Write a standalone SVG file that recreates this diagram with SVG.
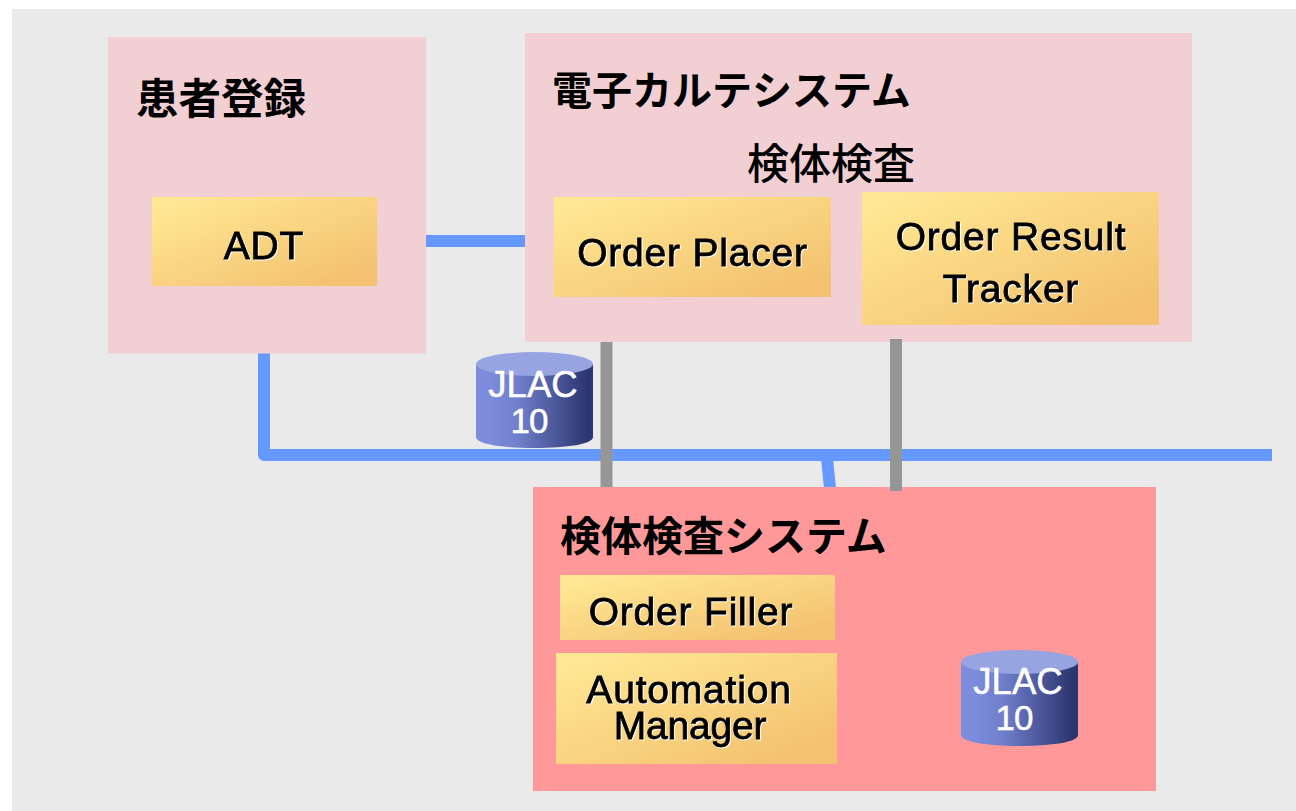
<svg xmlns="http://www.w3.org/2000/svg" width="1296" height="811" viewBox="0 0 1296 811">
<style>
.bg{fill:#eaeaea}
.sys{fill:#f2cfd3}
.lab{fill:#ff9999}
.act{fill:url(#gold)}
.title{font-family:"Noto Sans CJK JP","Liberation Sans",sans-serif;font-size:40px;font-weight:700;fill:#000}
.t{font-family:"Liberation Sans","Noto Sans CJK JP",sans-serif;font-size:39px;letter-spacing:.8px;text-anchor:middle;fill:#000;stroke:#000;stroke-width:.8px;filter:drop-shadow(1px 1px 0 #fff)}
.db{font-family:"Liberation Sans",sans-serif;font-size:36.500px;text-anchor:middle;fill:#fff;stroke:#fff;stroke-width:.5px}
.blue{stroke:#6699ff;stroke-width:12;fill:none;stroke-linejoin:round}
.gray{stroke:#969696;stroke-width:12;fill:none}
</style>
<defs>
<linearGradient id="gold" x1="0" y1="0" x2="1" y2="1"><stop offset=".1" stop-color="#ffe692"/><stop offset=".9" stop-color="#f3c16f"/></linearGradient>
<linearGradient id="cyl" x1="0" y1="0" x2="1" y2="0"><stop offset=".1" stop-color="#7d8cdc"/><stop offset=".35" stop-color="#7080cc"/><stop offset=".95" stop-color="#2c3670"/></linearGradient>
<g id="can"><path d="M0 12V85C0 92 26 96 58.500 96S117 92 117 85V12Z" fill="url(#cyl)"/><ellipse cx="58.500" cy="12" rx="58.500" ry="12" fill="#97a4e2"/></g>
</defs>
<rect class="bg" x="12" y="9" width="1284" height="802"/>
<g id="connectors">
<path class="blue" d="M426 241H526"/>
<path class="blue" d="M264 353V455H1272"/>
<path class="blue" d="M827 459L830 488"/>
</g>
<g id="patient"><rect class="sys" x="108" y="37" width="318" height="316.500"/><text class="title" x="136" y="114" style="font-size:42.500px">患者登録</text></g>
<g id="adt"><rect class="act" x="152" y="197" width="225" height="89"/><text class="t" x="264" y="259">ADT</text></g>
<g id="emr"><rect class="sys" x="525" y="33" width="667" height="309"/><text class="title" x="552" y="105">電子カルテシステム</text><text class="title" x="747" y="179" style="font-size:42px;font-weight:500">検体検査</text></g>
<g id="placer"><rect class="act" x="554" y="197" width="277" height="100"/><text class="t" x="692.500" y="266">Order Placer</text></g>
<g id="tracker"><rect class="act" x="862" y="192" width="297" height="133"/><text class="t" x="1011" y="250">Order Result</text><text class="t" x="1011" y="302">Tracker</text></g>
<g id="lab"><rect class="lab" x="533" y="487" width="623" height="304"/><text class="title" x="560" y="551" style="font-size:41px">検体検査システム</text></g>
<g id="filler"><rect class="act" x="560" y="575" width="275" height="65"/><text class="t" x="691" y="625">Order Filler</text></g>
<g id="automation"><rect class="act" x="556" y="653" width="281" height="111"/><text class="t" x="689" y="703">Automation</text><text class="t" x="690" y="739" style="letter-spacing:-.2px">Manager</text></g>
<g id="connectors-gray">
<path class="gray" d="M606.500 342V487"/>
<path class="gray" d="M896 339V491"/>
</g>
<g id="jlac1"><use href="#can" x="476" y="352"/><text class="db" x="533" y="397">JLAC</text><text class="db" x="529" y="433" style="font-size:35px;letter-spacing:-1px">10</text></g>
<g id="jlac2"><use href="#can" x="961" y="650"/><text class="db" x="1018" y="694">JLAC</text><text class="db" x="1014" y="730" style="font-size:35px;letter-spacing:-1px">10</text></g>
</svg>
